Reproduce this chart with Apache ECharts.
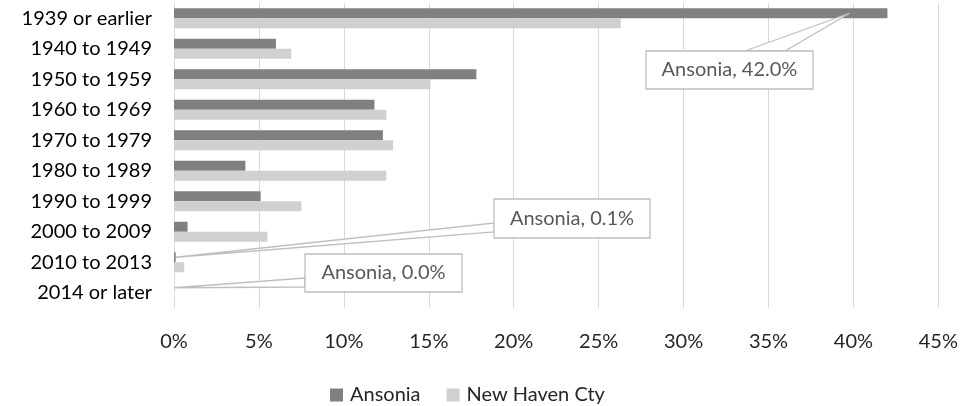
<!DOCTYPE html>
<html>
<head>
<meta charset="utf-8">
<script src="https://cdn.jsdelivr.net/npm/echarts@6/dist/echarts.min.js"></script>
<style>
html,body{margin:0;padding:0;background:#fff;}
#c{width:961px;height:406px;}
</style>
</head>
<body>
<div id="c"></div>
<script>
const categories = ['1939 or earlier','1940 to 1949','1950 to 1959','1960 to 1969','1970 to 1979','1980 to 1989','1990 to 1999','2000 to 2009','2010 to 2013','2014 or later'];
const seriesNames = ['Ansonia','New Haven Cty'];
const ansonia = [42.0, 6.0, 17.8, 11.8, 12.3, 4.2, 5.1, 0.8, 0.1, 0.0];
const newHaven = [26.3, 6.9, 15.1, 12.5, 12.9, 12.5, 7.5, 5.5, 0.6, 0.0];
const xTicks = [0,5,10,15,20,25,30,35,40,45];
const calloutIdx = [0, 8, 9];

const FONT = 'Lato, "Open Sans", sans-serif';
const FS = 20;
const chart = echarts.init(document.getElementById('c'));
const BAR_W = 10;

chart.setOption({
  animation: false,
  textStyle: {fontFamily: FONT},
  grid: {left: 174, right: 22, top: 3, bottom: 98, containLabel: false},
  legend: {
    data: seriesNames, top: 380, left: 325,
    itemWidth: 13, itemHeight: 13, itemGap: 26, icon: 'rect',
    textStyle: {fontFamily: FONT, fontSize: FS, color: '#262626', padding: [0, 0, 0, 2]}
  },
  xAxis: {
    type: 'value', min: xTicks[0], max: xTicks[xTicks.length-1], interval: 5,
    axisLine: {show: false}, axisTick: {show: false},
    splitLine: {lineStyle: {color: '#d9d9d9', width: 1}},
    axisLabel: {formatter: v => v + '%', fontSize: FS, color: '#262626', margin: 24, fontFamily: FONT}
  },
  yAxis: {
    type: 'category', data: categories, inverse: true,
    axisLine: {show: false}, axisTick: {show: false},
    axisLabel: {fontSize: FS, color: '#000', margin: 22, fontFamily: FONT}
  },
  series: [
    {name: seriesNames[0], type: 'bar', data: ansonia, barWidth: BAR_W, barGap: '0%', itemStyle: {color: '#808080'}},
    {name: seriesNames[1], type: 'bar', data: newHaven, barWidth: BAR_W, barGap: '0%', itemStyle: {color: '#d0d0d0'}}
  ]
});

// Callout layout (box position + wedge base, in pixels)
const calloutLayout = {
  0: {box: [646, 51, 167, 38], base: [[745, 51], [785, 51]], tipDx: -38},
  8: {box: [494, 199, 156, 39], base: [[494, 223], [494, 232]], tipDx: 0},
  9: {box: [305, 254, 157, 38], base: [[305, 278], [305, 287]], tipDx: 0}
};

const graphics = [];
calloutIdx.forEach(i => {
  const L = calloutLayout[i];
  const p = chart.convertToPixel({gridIndex: 0}, [ansonia[i], i]);
  const tip = [p[0] + L.tipDx, p[1] - BAR_W / 2];
  graphics.push({
    type: 'polygon', z: 100,
    shape: {points: [tip, L.base[0], L.base[1]]},
    style: {fill: '#fff', stroke: '#bfbfbf', lineWidth: 1.3}
  });
  graphics.push({
    type: 'rect', z: 101,
    shape: {x: L.box[0], y: L.box[1], width: L.box[2], height: L.box[3]},
    style: {fill: '#fff', stroke: '#bfbfbf', lineWidth: 1.3}
  });
  graphics.push({
    type: 'text', z: 102,
    x: L.box[0] + L.box[2] / 2, y: L.box[1] + L.box[3] / 2,
    style: {
      text: seriesNames[0] + ', ' + ansonia[i].toFixed(1) + '%',
      fill: '#595959', font: FS + 'px ' + FONT, align: 'center', verticalAlign: 'middle'
    }
  });
});
chart.setOption({graphic: graphics});
</script>
</body>
</html>
